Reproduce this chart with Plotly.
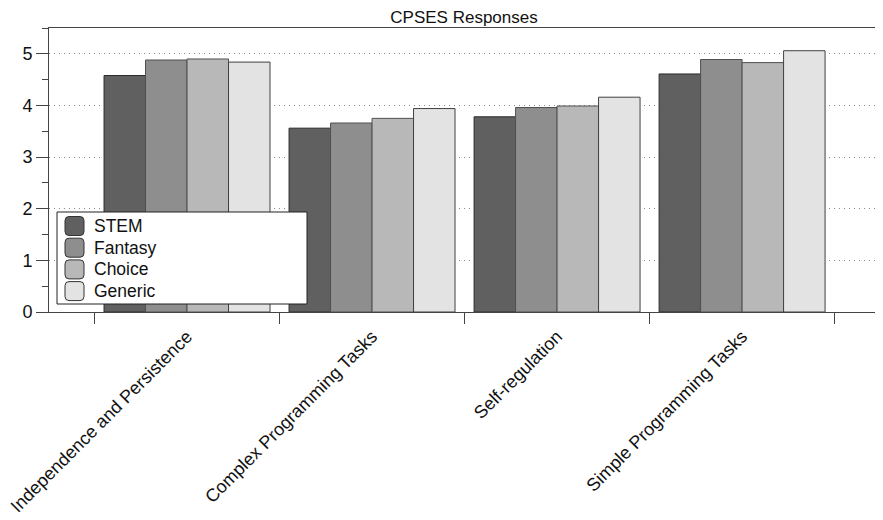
import plotly.graph_objects as go

categories = ["Independence and Persistence", "Complex Programming Tasks",
              "Self-regulation", "Simple Programming Tasks"]
series_names = ["STEM", "Fantasy", "Choice", "Generic"]
stem = [4.58, 3.56, 3.78, 4.61]
fantasy = [4.88, 3.66, 3.96, 4.89]
choice = [4.90, 3.75, 3.99, 4.83]
generic = [4.84, 3.94, 4.16, 5.06]
colors = ["#606060", "#8e8e8e", "#b8b8b8", "#e3e3e3"]
outlines = ["#2a2a2a", "#505050", "#505050", "#404040"]
y_ticks = [0, 1, 2, 3, 4, 5]

OFF = 8  # page body margin
W, H = 883 - OFF, 520 - OFF
L, T = 49 - OFF, 28 - OFF
pw, ph = 830, 284
R = W - L - pw
B = H - T - ph

fig = go.Figure()
for name, vals, c, oc in zip(series_names, [stem, fantasy, choice, generic], colors, outlines):
    fig.add_trace(go.Bar(x=categories, y=vals, name=name, showlegend=False,
                         marker=dict(color=c, line=dict(color=oc, width=1))))

def px_x(p):  # page pixel -> paper x
    return (p - OFF - L) / pw

def px_y(p):  # page pixel -> paper y
    return (T + ph - (p - OFF)) / ph

# legend box
fig.add_shape(type="rect", xref="paper", yref="paper",
              x0=px_x(57), x1=px_x(307), y0=px_y(304), y1=px_y(212),
              fillcolor="white", line=dict(color="#222", width=1), layer="above")

def rounded_square(x0p, y0p, size, r):
    # page pixel coords (top-left), returns path in paper coords
    X = lambda p: px_x(p)
    Y = lambda p: px_y(p)
    x1p, y1p = x0p + size, y0p + size
    return (f"M{X(x0p + r)},{Y(y0p)} L{X(x1p - r)},{Y(y0p)} "
            f"Q{X(x1p)},{Y(y0p)} {X(x1p)},{Y(y0p + r)} "
            f"L{X(x1p)},{Y(y1p - r)} Q{X(x1p)},{Y(y1p)} {X(x1p - r)},{Y(y1p)} "
            f"L{X(x0p + r)},{Y(y1p)} Q{X(x0p)},{Y(y1p)} {X(x0p)},{Y(y1p - r)} "
            f"L{X(x0p)},{Y(y0p + r)} Q{X(x0p)},{Y(y0p)} {X(x0p + r)},{Y(y0p)} Z")

row_top = 216.5
row_step = 21.7
for i, (name, c) in enumerate(zip(series_names, colors)):
    top = row_top + i * row_step
    fig.add_shape(type="path", xref="paper", yref="paper",
                  path=rounded_square(65, top, 19, 4),
                  fillcolor=c, line=dict(color="#333", width=1), layer="above")
    fig.add_annotation(xref="paper", yref="paper", x=px_x(92), y=px_y(top + 9.5),
                       xanchor="left", yanchor="middle", text=name, showarrow=False,
                       font=dict(size=17.5, color="#111"))

fig.update_layout(
    width=W, height=H,
    margin=dict(l=L, r=R, t=T, b=B),
    barmode="group", bargap=0.103, bargroupgap=0,
    plot_bgcolor="white", paper_bgcolor="white",
    font=dict(family="Liberation Sans, Arial, sans-serif", size=18, color="#111"),
    title=dict(text="CPSES Responses", x=px_x(464), xref="paper", xanchor="center",
               y=1 - 3 / H, yref="container", yanchor="top", pad=dict(t=0, b=0),
               font=dict(size=17, color="#111")),
    showlegend=False,
    xaxis=dict(range=[-0.746, 3.74], tickson="boundaries", ticks="outside",
               ticklen=11, tickcolor="#444", tickwidth=1, tickangle=-45,
               ticklabelstandoff=6,
               showline=True, linecolor="#444", linewidth=1, mirror=True,
               showgrid=False, tickfont=dict(size=18), automargin=False),
    yaxis=dict(range=[0, 5.5], tickvals=y_ticks, ticks="outside", ticklen=12,
               tickcolor="#444", tickwidth=1,
               showline=True, linecolor="#444", linewidth=1, mirror=True,
               showgrid=True, gridcolor="#888", griddash="1px,4px", gridwidth=1,
               zeroline=False, tickfont=dict(size=18), automargin=False,
               minor=dict(dtick=0.5, tick0=0, ticks="outside", ticklen=6,
                          tickcolor="#444", showgrid=False)),
)

fig.write_html("out.html")
